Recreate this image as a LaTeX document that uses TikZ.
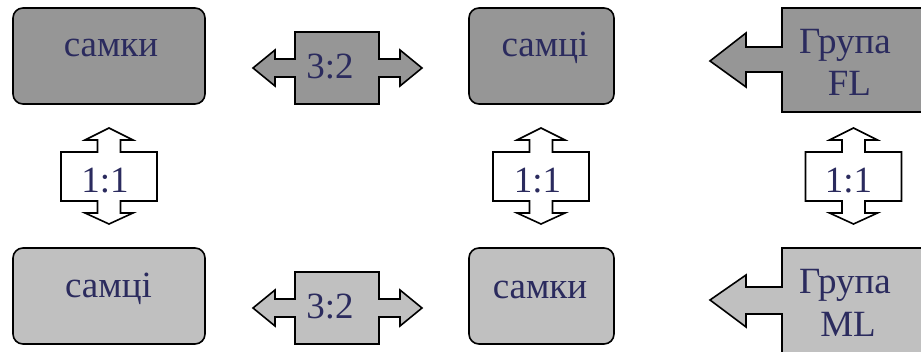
\documentclass[tikz,border=0pt]{standalone}
\usepackage{fontspec}
\setmainfont{Liberation Serif}
\newfontfamily\tnr{Liberation Serif}
\definecolor{dk}{HTML}{969696}
\definecolor{lt}{HTML}{C0C0C0}
\definecolor{txt}{HTML}{2B2B5E}
\begin{document}
\begin{tikzpicture}[x=1pt,y=-1pt, line width=1.6pt, line join=miter,
  box/.style={draw=black, rounded corners=10pt},
  shp/.style={draw=black},
  lbl/.style={text=txt, font=\tnr\fontsize{37}{42.5}\selectfont, anchor=base, inner sep=0pt}]
\useasboundingbox (0,0) rectangle (921,351);
\clip (0,0) rectangle (921,351);
% boxes
\filldraw[box, fill=dk] (13,8) rectangle (205,104);
\filldraw[box, fill=dk] (469,8) rectangle (614,104);
\filldraw[box, fill=lt] (13,248) rectangle (205,344);
\filldraw[box, fill=lt] (469,248) rectangle (614,344);
% 3:2 arrows
\foreach \dy/\col in {0/dk,240/lt}{
\begin{scope}[shift={(0,\dy)}]
\filldraw[shp, fill=\col] (253,68)--(275,50)--(275,59)--(295,59)--(295,32)--(379,32)--(379,59)--(400,59)--(400,50)--(422,68)--(400,86)--(400,77)--(379,77)--(379,104)--(295,104)--(295,77)--(275,77)--(275,86)--cycle;
\end{scope}}
% vertical 1:1 arrows
\foreach \cx in {109,541,853.5}{
\begin{scope}[shift={(\cx,0)}]
\filldraw[shp, fill=white] (0,128)--(-24,140)--(-11.5,140)--(-11.5,152)--(-48,152)--(-48,201)--(-11.5,201)--(-11.5,213)--(-24,213)--(0,224)--(24,213)--(11.5,213)--(11.5,201)--(48,201)--(48,152)--(11.5,152)--(11.5,140)--(24,140)--cycle;
\end{scope}}
% group callouts
\filldraw[shp, fill=dk] (710,61)--(746,33)--(746,47)--(782,47)--(782,8)--(930,8)--(930,112)--(782,112)--(782,72)--(746,72)--(746,87)--cycle;
\filldraw[shp, fill=lt] (710,300)--(746,275)--(746,287)--(782,287)--(782,248)--(930,248)--(930,360)--(782,360)--(782,314)--(746,314)--(746,327)--cycle;
% texts
\node[lbl] (f1) at (111,56) {самки};
\node[lbl] (m1) at (545,56) {самці};
\node[lbl] (m2) at (108.5,297) {самці};
\node[lbl] (f2) at (540,298) {самки};
\node[lbl] (r1) at (330,78) {3:2};
\node[lbl] (r2) at (330,318) {3:2};
\node[lbl] (e1) at (105,192) {1:1};
\node[lbl] (e2) at (537.5,192) {1:1};
\node[lbl] (e3) at (848.5,192) {1:1};
\node[lbl] (g1) at (845,53.5) {Група};
\node[lbl] (g1b) at (849.5,95) {FL};
\node[lbl] (g2) at (845,293.5) {Група};
\node[lbl] (g2b) at (848,336) {ML};
\end{tikzpicture}
\end{document}
